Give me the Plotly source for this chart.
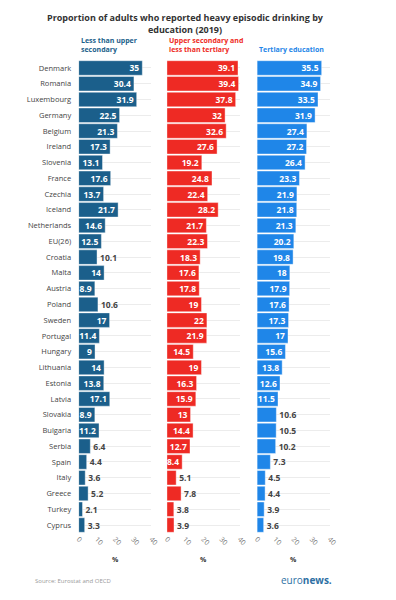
import plotly.graph_objects as go

countries = ["Denmark", "Romania", "Luxembourg", "Germany", "Belgium", "Ireland", "Slovenia",
             "France", "Czechia", "Iceland", "Netherlands", "EU(26)", "Croatia", "Malta",
             "Austria", "Poland", "Sweden", "Portugal", "Hungary", "Lithuania", "Estonia",
             "Latvia", "Slovakia", "Bulgaria", "Serbia", "Spain", "Italy", "Greece",
             "Turkey", "Cyprus"]
less_than_upper = [35, 30.4, 31.9, 22.5, 21.3, 17.3, 13.1, 17.6, 13.7, 21.7, 14.6, 12.5, 10.1, 14,
                   8.9, 10.6, 17, 11.4, 9, 14, 13.8, 17.1, 8.9, 11.2, 6.4, 4.4, 3.6, 5.2, 2.1, 3.3]
upper_secondary = [39.1, 39.4, 37.8, 32, 32.6, 27.6, 19.2, 24.8, 22.4, 28.2, 21.7, 22.3, 18.3, 17.6,
                   17.8, 19, 22, 21.9, 14.5, 19, 16.3, 15.9, 13, 14.4, 12.7, 8.4, 5.1, 7.8, 3.8, 3.9]
tertiary = [35.5, 34.9, 33.5, 31.9, 27.4, 27.2, 26.4, 23.3, 21.9, 21.8, 21.3, 20.2, 19.8, 18,
            17.9, 17.6, 17.3, 17, 15.6, 13.8, 12.6, 11.5, 10.6, 10.5, 10.2, 7.3, 4.5, 4.4, 3.9, 3.6]
series_names = ["Less than upper<br>secondary", "Upper secondary and<br>less than tertiary",
                "Tertiary education"]
tick_values = [0, 10, 20, 30, 40]

colors = ["#1b5f8b", "#ee2a24", "#1f86e8"]
domains = [(77, 152), (168, 243), (261, 336)]
W, H = 396, 600
PX_PER_UNIT = 75 / 40


def label(v):
    return f"{v:g}"


def text_width(s):
    return sum(2.5 if c == "." else 5.3 for c in s)


def positions(vals):
    return ["inside" if v * PX_PER_UNIT >= text_width(label(v)) + 2 else "outside" for v in vals]


top_px, bot_px = 60.1, 532.9
ydom = [1 - bot_px / H, 1 - top_px / H]

fig = go.Figure()
layout = {}
for i, vals in enumerate([less_than_upper, upper_secondary, tertiary]):
    sfx = "" if i == 0 else str(i + 1)
    pos = positions(vals)
    fig.add_trace(go.Bar(
        x=vals, y=countries, orientation="h",
        xaxis="x" + sfx, yaxis="y" + sfx,
        marker=dict(color=colors[i], line=dict(color="rgba(255,255,255,0.4)", width=1)),
        text=[label(v) for v in vals],
        textposition=pos,
        insidetextanchor="end",
        textangle=0,
        constraintext="none",
        insidetextfont=dict(family="Open Sans", size=8.5, color="white", weight="bold"),
        outsidetextfont=dict(family="Open Sans", size=8.5, color="#444", weight="bold"),
        cliponaxis=False,
        hoverinfo="skip",
        showlegend=False,
    ))
    x0, x1 = domains[i]
    layout["xaxis" + sfx] = dict(
        domain=[x0 / W, x1 / W], range=[0, 40], anchor="y" + sfx,
        tickvals=tick_values, tickangle=45, showgrid=False, zeroline=False,
        showline=False, ticks="", tickfont=dict(family="Open Sans", size=7, color="#777"),
        fixedrange=True,
    )
    layout["yaxis" + sfx] = dict(
        domain=ydom, anchor="x" + sfx, type="category",
        categoryorder="array", categoryarray=countries,
        range=[len(countries) - 0.5, -0.5],
        showgrid=True, gridcolor="#ececec", gridwidth=1,
        zeroline=False, showline=False,
        showticklabels=(i == 0), ticks="outside" if i == 0 else "", ticklen=5,
        tickcolor="rgba(0,0,0,0)",
        tickfont=dict(family="Open Sans", size=7.5, color="#444"),
        fixedrange=True,
    )
    fig.add_annotation(
        x=x0 / W, y=1 - 56 / H, xref="paper", yref="paper",
        xanchor="left", yanchor="bottom", align="left",
        text="<b>" + series_names[i] + "</b>", showarrow=False,
        font=dict(family="Open Sans", size=7, color=colors[i]),
    )
    fig.add_annotation(
        x=(x0 + x1) / 2 / W, y=1 - 559 / H, xref="paper", yref="paper",
        xanchor="center", yanchor="middle",
        text="<b>%</b>", showarrow=False,
        font=dict(family="Open Sans", size=7, color="#333"),
    )

fig.add_annotation(
    x=187 / W, y=1 - 9 / H, xref="paper", yref="paper", xanchor="center", yanchor="top",
    text="<b>Proportion of adults who reported heavy episodic drinking by<br>education (2019)</b>",
    showarrow=False, font=dict(family="Open Sans", size=9, color="#333"),
)
fig.add_annotation(
    x=30 / W, y=1 - 581 / H, xref="paper", yref="paper", xanchor="left", yanchor="middle",
    text="Source: Eurostat and OECD", showarrow=False,
    font=dict(family="Open Sans", size=6, color="#999"),
)
fig.add_annotation(
    x=340 / W, y=1 - 580 / H, xref="paper", yref="paper", xanchor="right", yanchor="middle",
    text="euro<b>news.</b>", showarrow=False,
    font=dict(family="Open Sans", size=10, color="#2d6fa3"),
)

fig.update_layout(
    width=W, height=H, margin=dict(l=0, r=0, t=0, b=0),
    paper_bgcolor="white", plot_bgcolor="white",
    bargap=0.08,
    **layout,
)
fig.write_html("out.html", config={"displayModeBar": False},
               post_script="document.body.style.margin='0';document.body.style.overflow='hidden';")
